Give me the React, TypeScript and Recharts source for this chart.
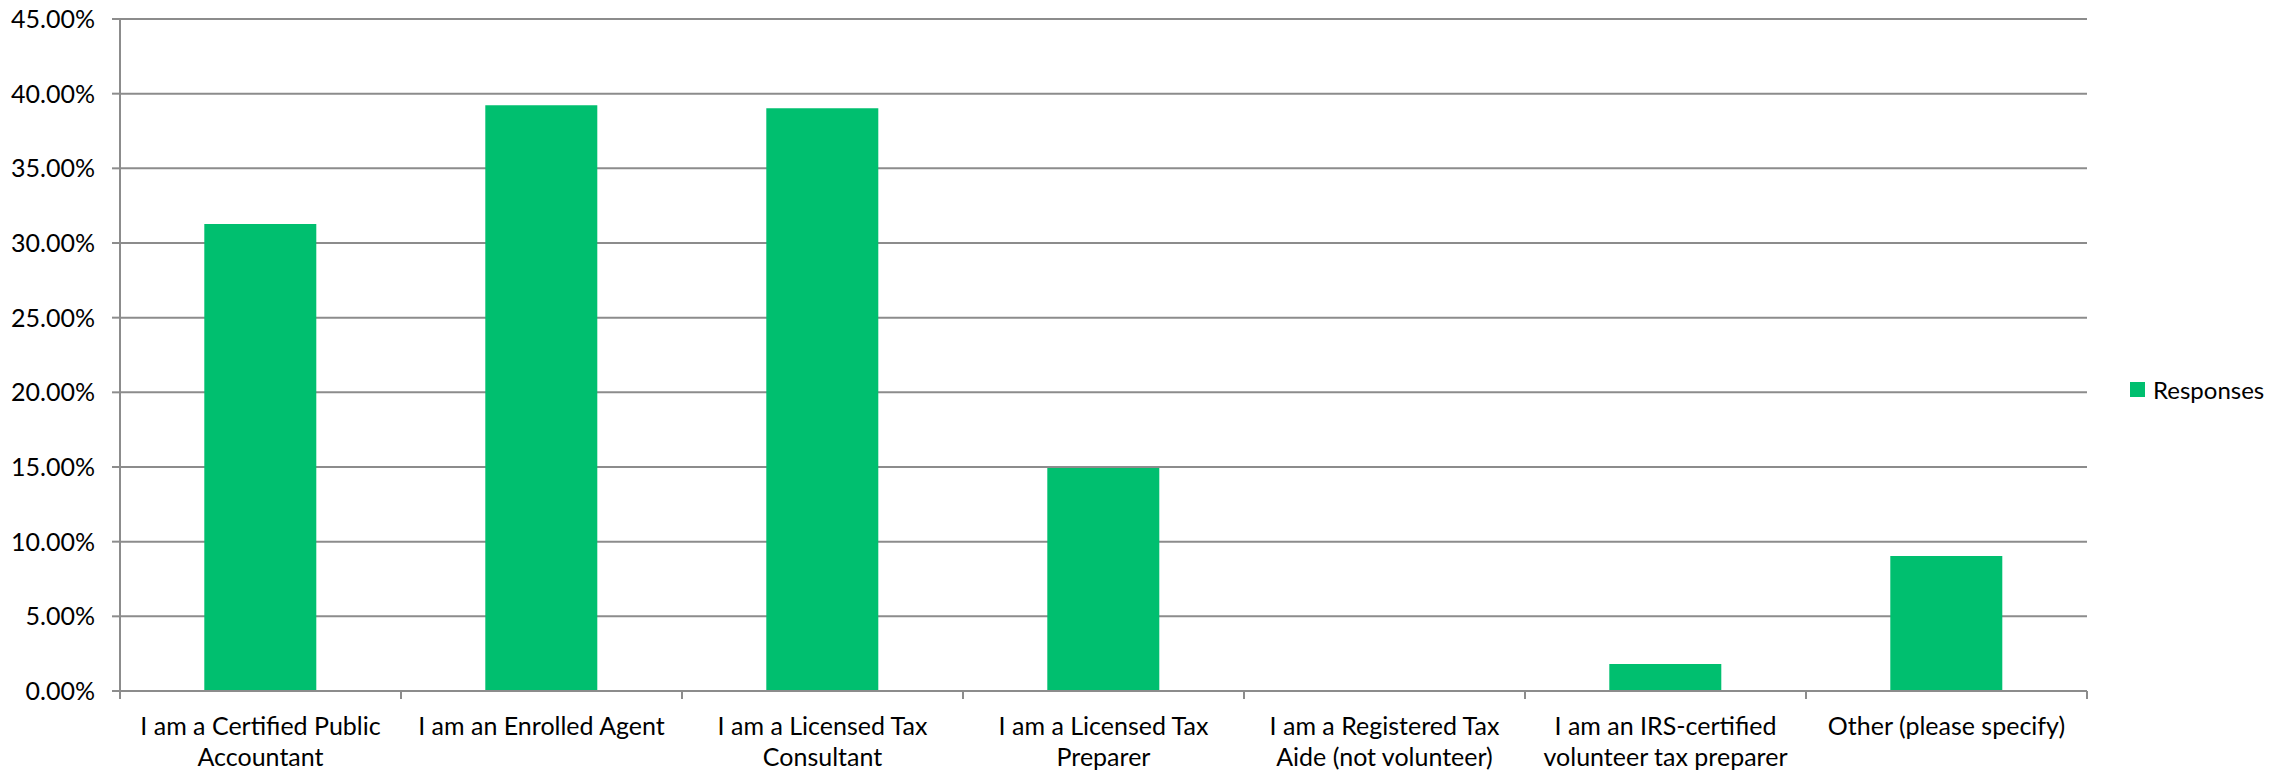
import { BarChart, Bar, XAxis, YAxis, CartesianGrid } from "recharts";

// survey: which best describes you
const labelLines: string[][] = [
  ["I am a Certified Public", "Accountant"],
  ["I am an Enrolled Agent"],
  ["I am a Licensed Tax", "Consultant"],
  ["I am a Licensed Tax", "Preparer"],
  ["I am a Registered Tax", "Aide (not volunteer)"],
  ["I am an IRS-certified", "volunteer tax preparer"],
  ["Other (please specify)"],
];
const responses = [0.3128, 0.3923, 0.3902, 0.1494, 0, 0.0181, 0.0904];
const yTicks = [0, 0.05, 0.1, 0.15, 0.2, 0.25, 0.3, 0.35, 0.4, 0.45];

const data = labelLines.map((lines, i) => ({
  name: lines.join(" "),
  Responses: responses[i],
}));

const GREEN = "#00bf6f";
const GRID = "#8c8c8c";
const FONT = "Lato, 'Open Sans', sans-serif";

const CategoryTick = ({ x, y, payload, index }: any) => {
  const i = payload.index ?? index;
  const lines = labelLines[i] ?? [payload.value];
  const half = payload.offset ?? 140.5;
  const isLast = i === labelLines.length - 1;
  return (
    <g>
      <line x1={x - half} x2={x - half} y1={y - 8} y2={y} stroke={GRID} strokeWidth={2} />
      {isLast && (
        <line x1={x + half} x2={x + half} y1={y - 8} y2={y} stroke={GRID} strokeWidth={2} />
      )}
      <text x={x} y={y} textAnchor="middle" fill="#000" fontSize={25} fontFamily={FONT}>
        {lines.map((l, k) => (
          <tspan key={k} x={x} dy={k === 0 ? 36 : 31}>
            {l}
          </tspan>
        ))}
      </text>
    </g>
  );
};

export default function App() {
  return (
    <div style={{ position: "absolute", left: 0, top: 0, width: 2295, height: 771, background: "#fff" }}>
      <BarChart
        width={2295}
        height={771}
        data={data}
        barCategoryGap="30%"
        margin={{ top: 19, right: 208, left: 0, bottom: 0 }}
      >
        <CartesianGrid vertical={false} stroke={GRID} strokeWidth={2} />
        <XAxis
          dataKey="name"
          interval={0}
          height={80}
          tickLine={false}
          tickSize={8}
          tickMargin={0}
          axisLine={{ stroke: GRID, strokeWidth: 2 }}
          tick={<CategoryTick />}
        />
        <YAxis
          width={120}
          domain={[0, 0.45]}
          ticks={yTicks}
          interval={0}
          tickSize={8}
          tickMargin={17}
          tickLine={{ stroke: GRID, strokeWidth: 2 }}
          axisLine={{ stroke: GRID, strokeWidth: 2 }}
          tickFormatter={(v: number) => `${(v * 100).toFixed(2)}%`}
          tick={{ fill: "#000", fontSize: 25, fontFamily: FONT }}
        />
        <Bar dataKey="Responses" fill={GREEN} isAnimationActive={false} />
      </BarChart>
      <div
        style={{
          position: "absolute",
          left: 2130,
          top: 375,
          display: "flex",
          alignItems: "center",
          fontFamily: FONT,
          fontSize: 24,
          color: "#000",
        }}
      >
        <span style={{ width: 15, height: 15, background: GREEN, display: "inline-block", marginRight: 8 }} />
        Responses
      </div>
    </div>
  );
}
